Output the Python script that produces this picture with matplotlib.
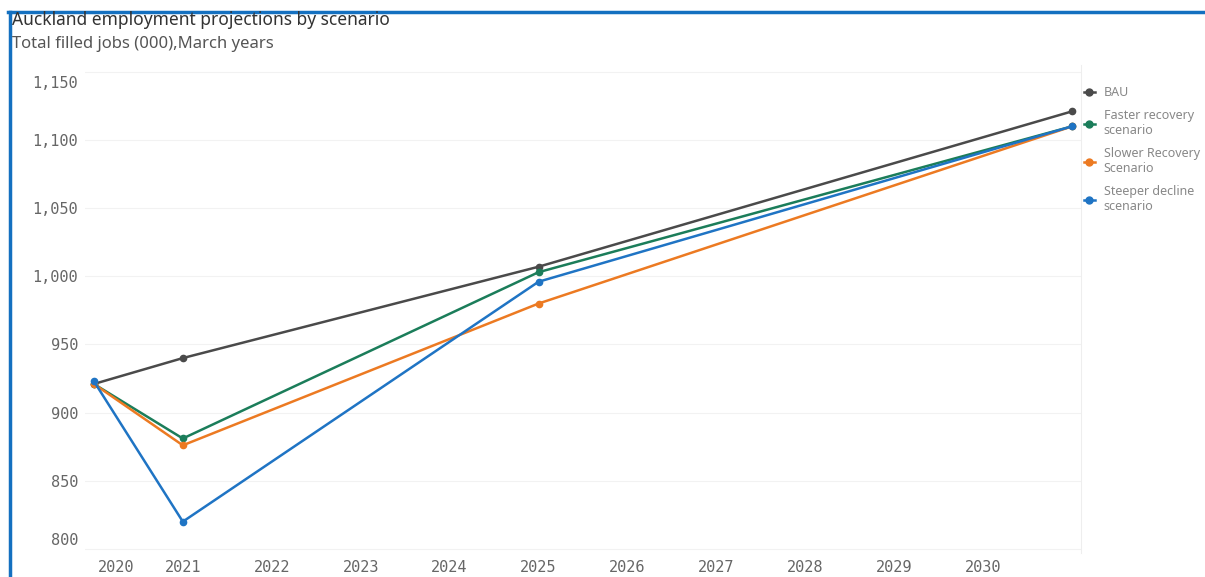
import matplotlib.pyplot as plt
from matplotlib.lines import Line2D
from matplotlib.transforms import ScaledTranslation

plt.rcParams['font.family'] = ['Noto Sans', 'DejaVu Sans']

# --- DATA ---
years = [2020, 2021, 2025, 2031]
bau = [921, 940, 1007, 1121]
faster = [921, 881, 1003, 1110]
slower = [921, 876, 980, 1110]
steeper = [923, 820, 996, 1110]

series_names = ["BAU", "Faster recovery\nscenario", "Slower Recovery\nScenario",
                "Steeper decline\nscenario"]
series_colors = ["#4a4a4a", "#1b7d5a", "#ec7a22", "#1f74c4"]
x_ticks = list(range(2020, 2031))
y_ticks = [800, 850, 900, 950, 1000, 1050, 1100, 1150]

fig = plt.figure(figsize=(12.05, 5.77), dpi=100)
ax = fig.add_axes([85 / 1205, 1 - 553 / 577, (1081 - 85) / 1205, (553 - 65) / 577])

for vals, name, col in zip([bau, faster, slower, steeper], series_names, series_colors):
    ax.plot(years, vals, color=col, lw=1.8, marker='o', ms=4.5, label=name, zorder=3)

ax.set_xlim(2019.9, 2031.1)
ax.set_ylim(797, 1155)
ax.set_xticks(x_ticks)
ax.set_yticks(y_ticks)
ax.set_yticklabels([f"{v:,}" for v in y_ticks])
ax.tick_params(length=0, labelsize=11, labelcolor="#666666", pad=5)
for lbl in ax.get_xticklabels() + ax.get_yticklabels():
    lbl.set_family('DejaVu Sans Mono')

# nudge edge labels inward as in the original
def shift(lbl, dx, dy):
    lbl.set_transform(lbl.get_transform() + ScaledTranslation(dx / 100, dy / 100, fig.dpi_scale_trans))

shift(ax.get_xticklabels()[0], 22, 0)
shift(ax.get_yticklabels()[0], 0, 10)
shift(ax.get_yticklabels()[-1], 0, -10)

ax.grid(axis='y', color="#f2f2f2", lw=0.8)
for s in ['top', 'left', 'bottom']:
    ax.spines[s].set_visible(False)
ax.spines['right'].set_color("#eeeeee")

# legend
handles = [Line2D([0], [0], color=c, marker='o', ms=5, lw=1.8) for c in series_colors]
leg = ax.legend(handles, series_names, loc='upper left', bbox_to_anchor=(0.995, 0.972),
                frameon=False, fontsize=9, handlelength=0.9, handletextpad=0.7,
                labelspacing=0.8, borderaxespad=0.2)
for t in leg.get_texts():
    t.set_color("#888888")
    t.set_linespacing(1.2)

# titles
fig.text(12 / 1205, 1 - 20 / 577, "Auckland employment projections by scenario",
         fontsize=12.5, color="#333333", va='center', ha='left')
fig.text(12 / 1205, 1 - 44 / 577, "Total filled jobs (000),March years",
         fontsize=12, color="#555555", va='center', ha='left')

# blue frame
fig.add_artist(Line2D([8 / 1205, 1], [1 - 12 / 577, 1 - 12 / 577], transform=fig.transFigure,
                      color="#1470c0", lw=2.5))
fig.add_artist(Line2D([9.5 / 1205, 9.5 / 1205], [1 - 12 / 577, 0], transform=fig.transFigure,
                      color="#1470c0", lw=2.5))

fig.savefig("out.png", dpi=100)
